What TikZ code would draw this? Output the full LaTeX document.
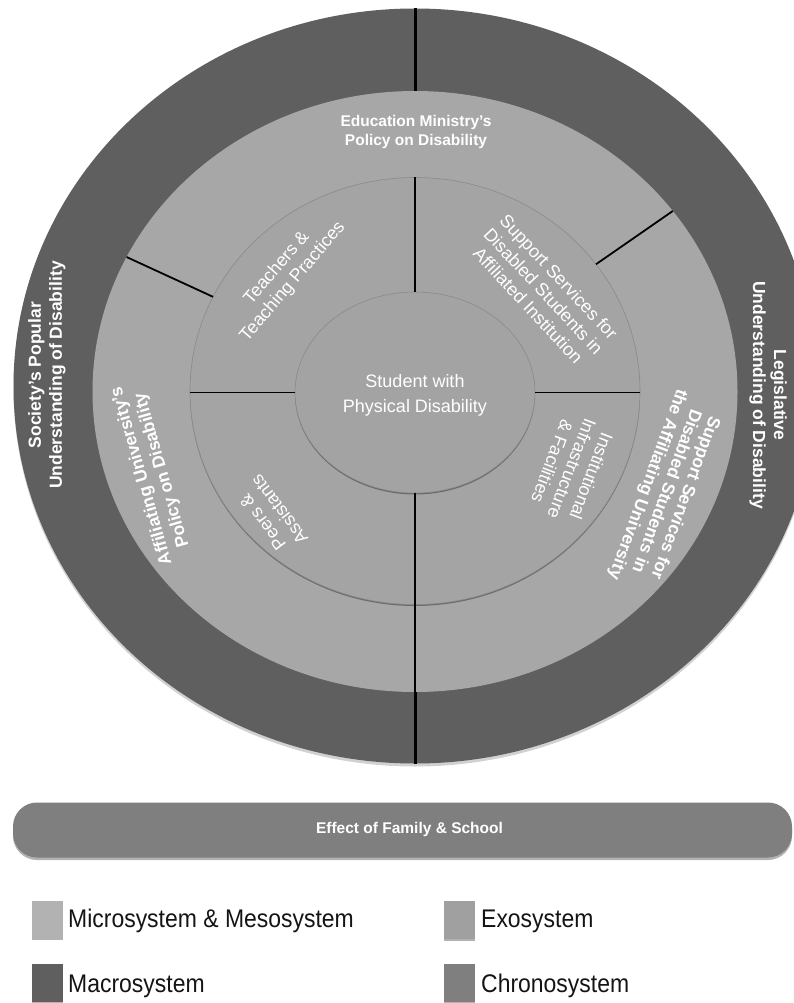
\documentclass[tikz,border=0pt]{standalone}
\usepackage{fontspec}
\setmainfont{Liberation Sans}
\newfontfamily\keyfont[FakeStretch=0.9]{Liberation Sans}
\usetikzlibrary{shapes.geometric,shadows}

\definecolor{macrogrey}{HTML}{5F5F5F}
\definecolor{exogrey}{HTML}{A7A7A7}
\definecolor{microgrey}{HTML}{A4A4A4}
\definecolor{coregrey}{HTML}{A3A3A3}
\definecolor{rimgrey}{HTML}{8A8A8A}
\definecolor{chronogrey}{HTML}{7F7F7F}
\definecolor{swmicro}{HTML}{B2B2B2}
\definecolor{swexo}{HTML}{A0A0A0}
\definecolor{legendtext}{HTML}{141414}

\begin{document}
\begin{tikzpicture}[x=1pt,y=-1pt,
  ring/.style={ellipse, inner sep=0pt, outer sep=0pt},
  softshadow/.style={drop shadow={shadow xshift=0pt, shadow yshift=-1.5pt, opacity=0.35, fill=black}},
  outershadow/.style={drop shadow={shadow xshift=0pt, shadow yshift=-3pt, opacity=0.18, fill=black}},
  thindiv/.style={line width=1.8pt, black},
  thickdiv/.style={line width=3pt, black},
  lbl/.style={text=white, align=center, inner sep=0pt,
    font=\fontsize{18}{21}\selectfont},
  blbl/.style={text=white, align=center, inner sep=0pt,
    font=\bfseries\fontsize{17.5}{21}\selectfont},
  swatch/.style={minimum width=31pt, minimum height=38pt, inner sep=0pt,
    drop shadow={shadow xshift=0pt, shadow yshift=-1.5pt, opacity=0.3, fill=black}},
  legendlbl/.style={anchor=base west, inner sep=0pt, text=legendtext,
    font=\keyfont\fontsize{25.5}{28}\selectfont}
]
\useasboundingbox (0,0) rectangle (794,1003);
\fill[white] (0,0) rectangle (794,1003);

% nested systems, from the outside in
\node[ring, fill=macrogrey, outershadow, minimum width=803pt, minimum height=755pt] (macro) at (415,386) {};
\node[ring, fill=exogrey, minimum width=645pt, minimum height=601pt] (exo) at (415,391.5) {};
\node[ring, fill=microgrey, draw=rimgrey, line width=0.6pt, softshadow, minimum width=450pt, minimum height=427pt] (micro) at (415,391) {};
\node[ring, fill=coregrey, draw=rimgrey, line width=0.6pt, softshadow, minimum width=240pt, minimum height=201pt] (core) at (415,392.5) {};

% sector dividers
\draw[thickdiv] (macro.north) -- (exo.north);
\draw[thindiv] (micro.north) -- (core.north);
\draw[thindiv] (core.south) -- (exo.south);
\draw[thickdiv] (exo.south) -- (macro.south);
\draw[thindiv] (core.west) -- (core.west -| micro.west);
\draw[thindiv] (core.east) -- (core.east -| micro.east);
\draw[thindiv] (exo.155.5) -- (micro.155.5);
\draw[thindiv] (exo.35.3) -- (micro.35.3);

% centre
\node[lbl, font=\fontsize{18}{25}\selectfont] (student) at (415,395) {Student with\\Physical Disability};

% microsystem / mesosystem
\node[lbl, rotate=49.5] (teachers) at (285,275) {Teachers \&\\Teaching Practices};
\node[lbl, rotate=-47] (supportinst) at (543.5,291) {Support Services for\\Disabled Students in\\Affiliated Institution};
\node[lbl, rotate=-111] (infra) at (572,469) {Institutional\\Infrastructure\\\& Facilities};
\node[lbl, rotate=127] (peers) at (271,516) {Peers \&\\Assistants};

% exosystem
\node[blbl, font=\bfseries\fontsize{15.5}{19.5}\selectfont] (ministry) at (416,132) {Education Ministry's\\Policy on Disability};
\node[blbl, rotate=106] (univpolicy) at (152,473) {Affiliating University's\\Policy on Disability};
\node[blbl, rotate=-110, font=\bfseries\fontsize{17.5}{20}\selectfont] (supportuniv) at (666,491) {Support Services for\\Disabled Students in\\the Affiliating University};

% macrosystem
\node[blbl, rotate=90] (society) at (47,375) {Society's Popular\\Understanding of Disability};
\node[blbl, rotate=-90] (legislative) at (768,395) {Legislative\\Understanding of Disability};

% chronosystem band
\node[fill=chronogrey, rounded corners=24pt, minimum width=779pt, minimum height=55pt, inner sep=0pt,
  drop shadow={shadow xshift=0pt, shadow yshift=-2.5pt, opacity=0.3, fill=black}] (band) at (402.5,830) {};
\node[text=white, inner sep=0pt, font=\bfseries\fontsize{15.5}{18}\selectfont] (bandlbl) at (409.5,829.5) {Effect of Family \& School};

% legend
\node[swatch, fill=swmicro] (keymicro) at (47,919.5) {};
\node[legendlbl] (keymicrolbl) at (68,927) {Microsystem \& Mesosystem};
\node[swatch, fill=swexo] (keyexo) at (459,920) {};
\node[legendlbl] (keyexolbl) at (481,927) {Exosystem};
\node[swatch, fill=macrogrey] (keymacro) at (47,983) {};
\node[legendlbl] (keymacrolbl) at (68,992) {Macrosystem};
\node[swatch, fill=chronogrey] (keychrono) at (459,983) {};
\node[legendlbl] (keychronolbl) at (481,992) {Chronosystem};
\end{tikzpicture}
\end{document}
